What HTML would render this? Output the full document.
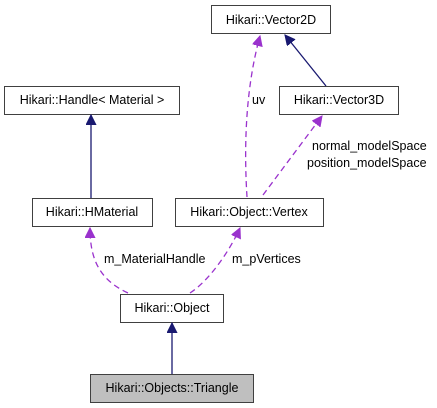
<!DOCTYPE html>
<html><head><style>body{margin:0;background:#fff}svg{display:block}text{font-family:"Liberation Sans",sans-serif;font-size:12.5px;fill:#000}</style></head><body>
<svg width="437" height="408" viewBox="0 0 437 408">
<defs>
<marker id="n" markerWidth="12" markerHeight="12" refX="10" refY="5" orient="auto" markerUnits="userSpaceOnUse"><path d="M0,0 L10,5 L0,10 z" fill="#191970" stroke="#191970"/></marker>
<marker id="p" markerWidth="12" markerHeight="12" refX="10" refY="5" orient="auto" markerUnits="userSpaceOnUse"><path d="M0,0 L10,5 L0,10 z" fill="#9a32cd" stroke="#9a32cd"/></marker>
</defs>
<g fill="#fff" stroke="#404040" stroke-width="1">
<rect x="211.5" y="5.5" width="119" height="28"/>
<rect x="4.5" y="86.5" width="175" height="28"/>
<rect x="279.5" y="86.5" width="119" height="28"/>
<rect x="32.5" y="198.5" width="120" height="28"/>
<rect x="175.5" y="198.5" width="148" height="28"/>
<rect x="120.5" y="294.5" width="103" height="28"/>
<rect x="90.5" y="374.5" width="163" height="28" fill="#bfbfbf"/>
</g>
<g text-anchor="middle">
<text x="271" y="24">Hikari::Vector2D</text>
<text x="92" y="104">Hikari::Handle&lt; Material &gt;</text>
<text x="339" y="104">Hikari::Vector3D</text>
<text x="92" y="216">Hikari::HMaterial</text>
<text x="249" y="216">Hikari::Object::Vertex</text>
<text x="172" y="312">Hikari::Object</text>
<text x="172" y="392">Hikari::Objects::Triangle</text>
</g>
<g fill="none" stroke-width="1.3">
<path d="M91,198 L91,115" stroke="#191970" marker-end="url(#n)"/>
<path d="M326,86 L285,35" stroke="#191970" marker-end="url(#n)"/>
<path d="M172,374 L172,323" stroke="#191970" marker-end="url(#n)"/>
<g stroke="#9a32cd" stroke-dasharray="6,4">
<path d="M247,197 C244,150 245,90 260,36" marker-end="url(#p)"/>
<path d="M263,195 L322,116" marker-end="url(#p)"/>
<path d="M128,293 C100,280 90,260 90,228" marker-end="url(#p)"/>
<path d="M190,293 C210,280 230,250 240,228" marker-end="url(#p)"/>
</g>
</g>
<text x="252" y="104">uv</text>
<text x="312" y="150">normal_modelSpace</text>
<text x="307" y="167">position_modelSpace</text>
<text x="104" y="263">m_MaterialHandle</text>
<text x="232" y="263">m_pVertices</text>
</svg>
</body></html>
